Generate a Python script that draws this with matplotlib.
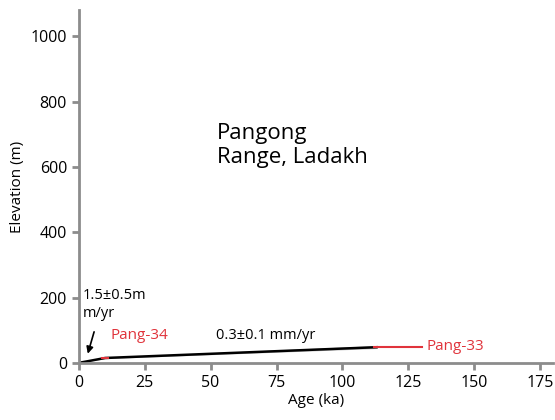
import matplotlib
matplotlib.use('Agg')
from matplotlib import pyplot as plt
import numpy as np

plt.rcParams['font.family'] = ['Open Sans', 'DejaVu Sans']

# incision model line (age ka, elevation m)
model_age = [0, 10, 113]
model_elev = [0, 15, 48]
band_lo = [0, 13, 44]
band_hi = [0, 17, 53]

# sample ages with uncertainty
sample_names = ['Pang-34', 'Pang-33']
sample_age = [10, 121]
sample_age_err = [1.2, 9]
sample_elev = [15, 49]

xticks = [0, 25, 50, 75, 100, 125, 150, 175]
yticks = [0, 200, 400, 600, 800, 1000]

fig = plt.figure(figsize=(5.55, 4.2), dpi=100)
ax = fig.add_axes([0.142, 0.136, 0.855, 0.84])

gray = '#8c8c8c'
red = '#e0333b'

ax.fill_between(model_age, band_lo, band_hi, color='#bdbdbd', lw=0)
ax.plot(model_age, model_elev, color='black', lw=1.8)
for a, e, err in zip(sample_age, sample_elev, sample_age_err):
    ax.plot([a - err, a + err], [e, e], color=red, lw=1.5)

ax.text(52.5, 735, 'Pangong\nRange, Ladakh', fontsize=16, va='top', ha='left')
ax.text(1.5, 228, '1.5\u00b10.5m\nm/yr', fontsize=10.5, va='top', ha='left')
ax.annotate('', xy=(3.4, 28), xytext=(5.8, 95),
            arrowprops=dict(arrowstyle='-|>', color='black', lw=1.2,
                            mutation_scale=10, shrinkA=0, shrinkB=0))
ax.text(71, 62, '0.3\u00b10.1 mm/yr', fontsize=10.5, ha='center', va='bottom')
ax.text(12, 60, sample_names[0], fontsize=11, color=red, va='bottom')
ax.text(132, 49, sample_names[1], fontsize=11, color=red, va='center')

ax.set_xlim(0, 180)
ax.set_ylim(0, 1080)
ax.set_xticks(xticks)
ax.set_yticks(yticks)
for s in ['top', 'right']:
    ax.spines[s].set_visible(False)
for s in ['left', 'bottom']:
    ax.spines[s].set_color(gray)
    ax.spines[s].set_linewidth(2)
ax.tick_params(colors=gray, width=2, length=5, labelsize=11.5, labelcolor='black')
ax.set_xlabel('Age (ka)', fontsize=11, labelpad=2)
ax.set_ylabel('Elevation (m)', fontsize=11, labelpad=4)

fig.savefig('out.png', dpi=100)
